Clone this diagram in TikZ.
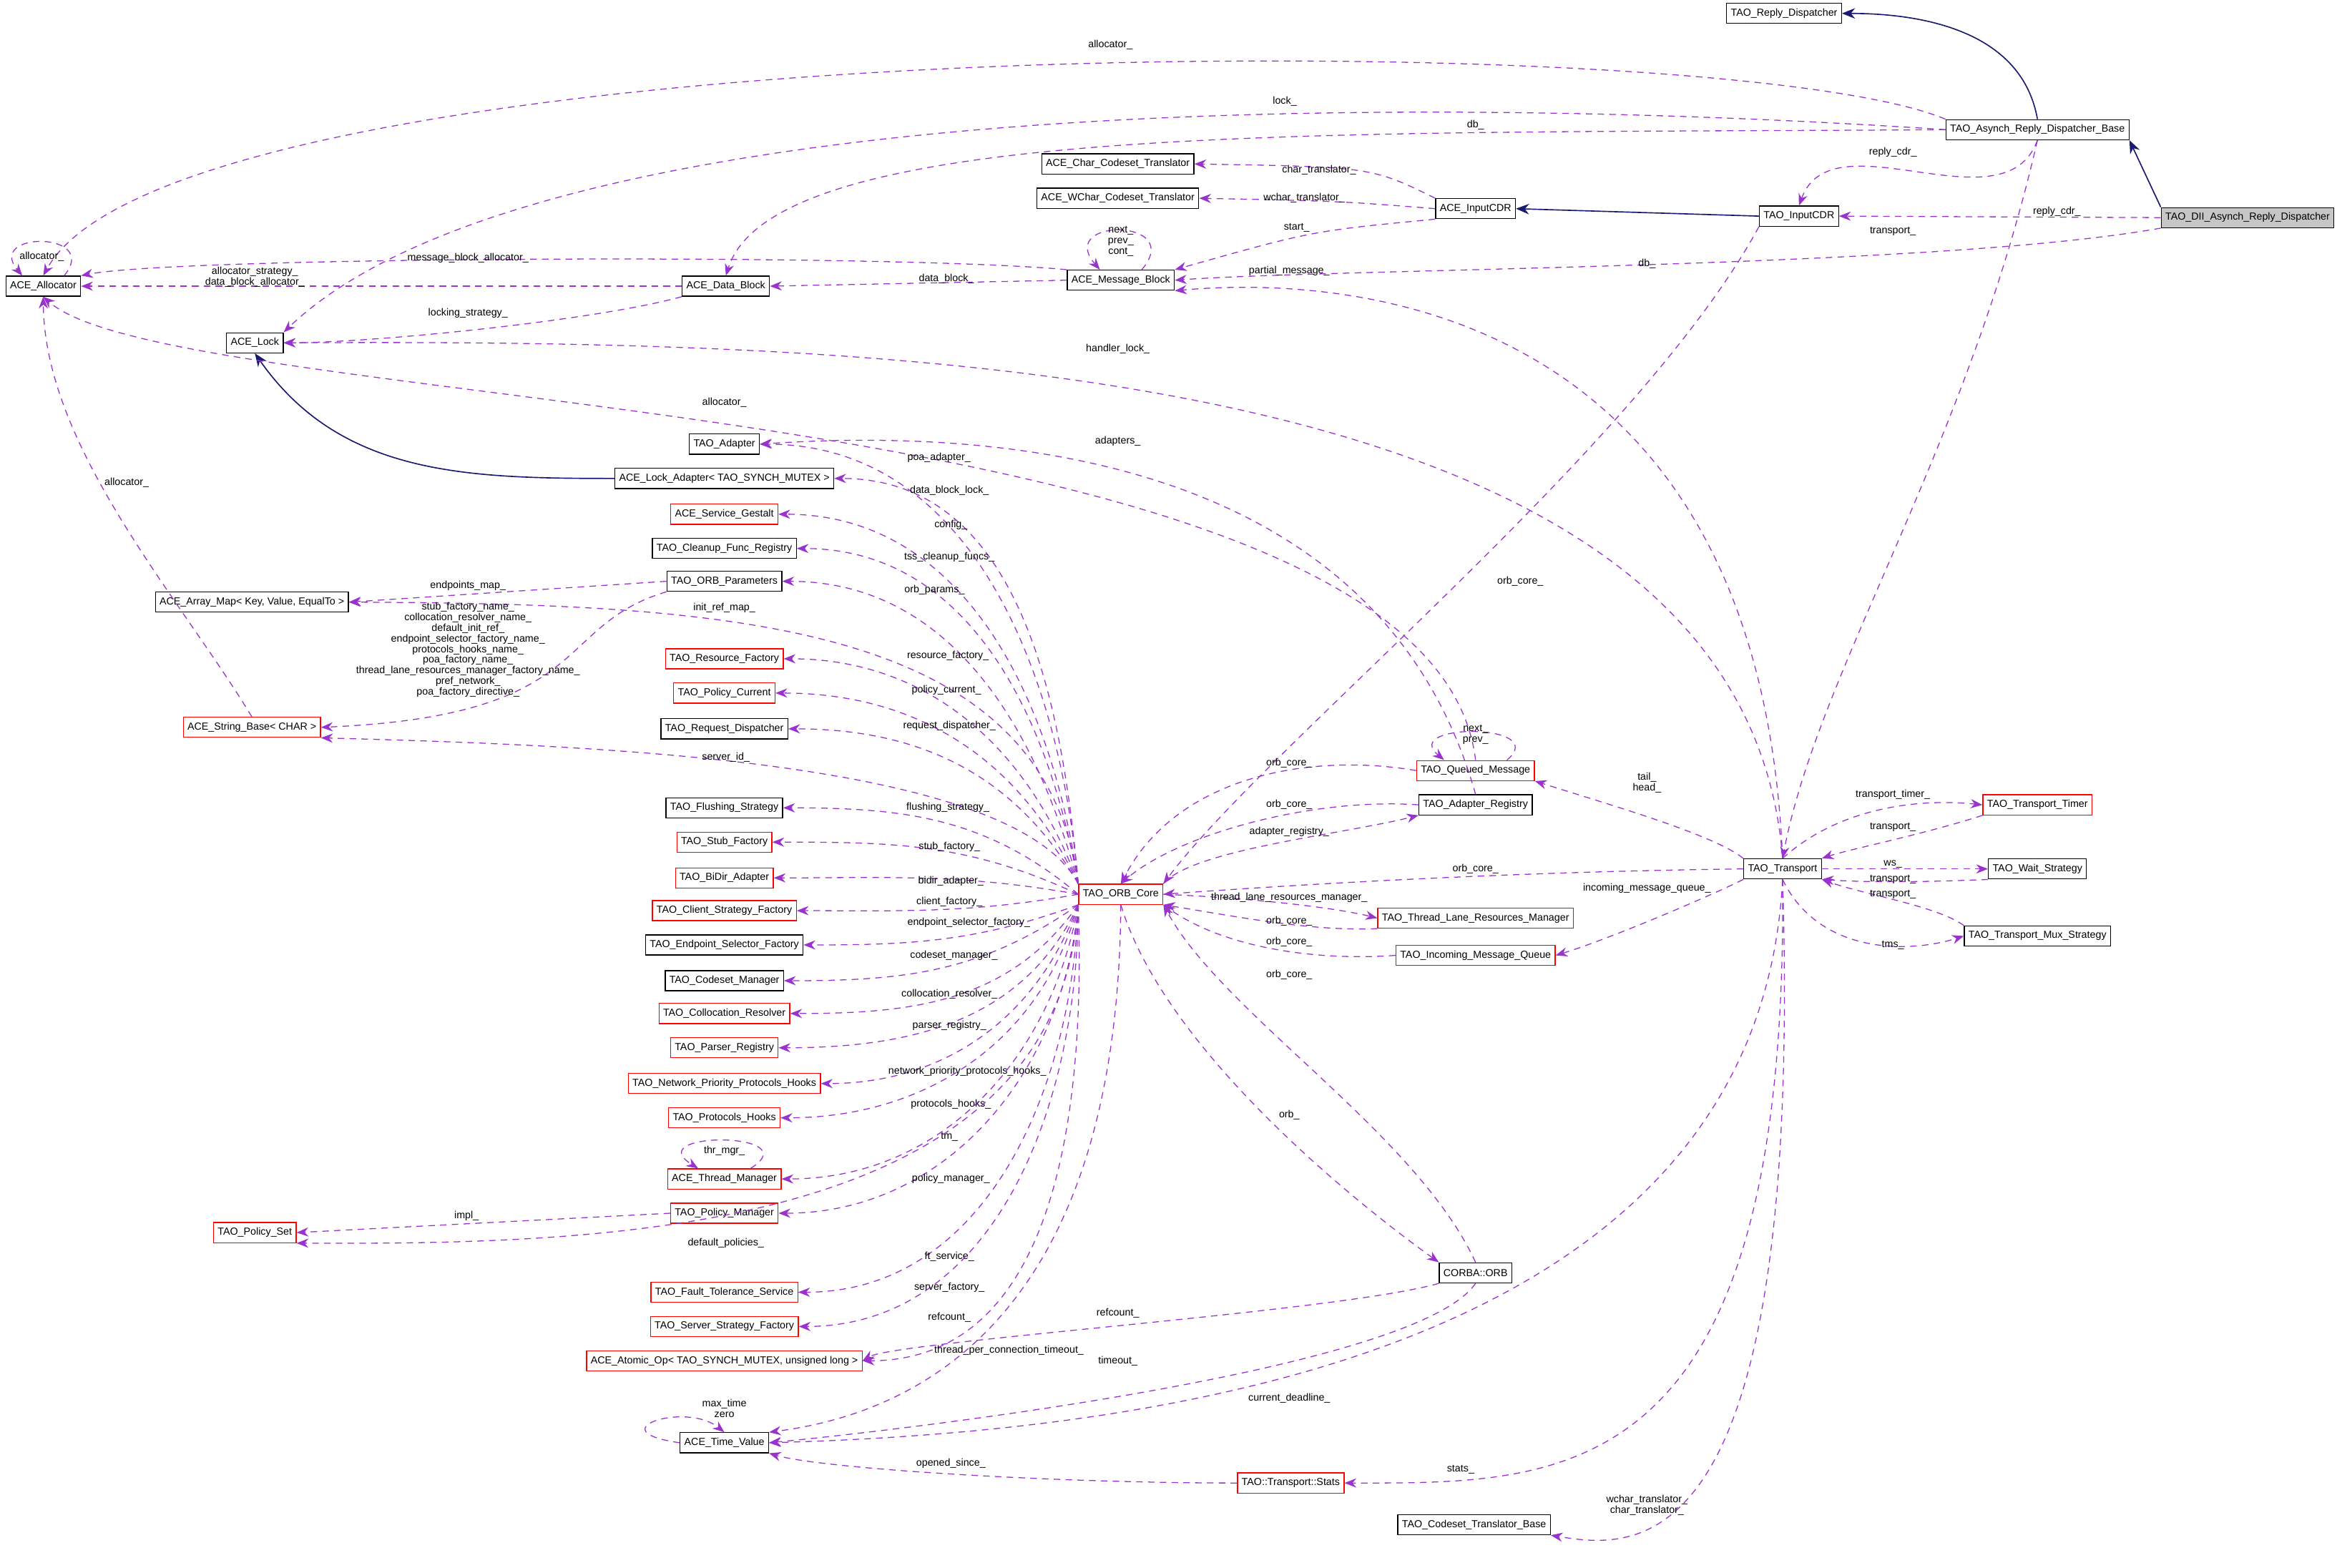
\documentclass[tikz,border=0pt]{standalone}
\usepackage{fontspec}
\setmainfont{Liberation Sans}
\usetikzlibrary{arrows.meta}
\definecolor{usec}{HTML}{9A32CD}
\definecolor{inhc}{HTML}{191970}
\begin{document}
\begin{tikzpicture}[x=0.02cm,y=-0.02cm,
  every node/.style={font=\fontsize{3.9}{4.05}\selectfont},
  cls/.style={draw=black,line width=0.35pt,inner sep=1.6pt,minimum height=0.27cm,fill=white},
  rcls/.style={cls,draw=red},
  lbl/.style={inner sep=0pt,align=center},
  use/.style={draw=usec,dashed,dash pattern=on 2.5pt off 2pt,line width=0.35pt,-{Stealth[length=4.5pt,width=3.5pt]}},
  inh/.style={draw=inhc,line width=0.45pt,-{Stealth[length=5pt,width=4pt]}}]
\useasboundingbox (0,0) rectangle (1568,1052);
% nodes
\node[cls] (rd) at (1197,9) {TAO\_Reply\_Dispatcher};
\node[cls] (asb) at (1367,87) {TAO\_Asynch\_Reply\_Dispatcher\_Base};
\node[cls,fill=gray!45] (dii) at (1508,146) {TAO\_DII\_Asynch\_Reply\_Dispatcher};
\node[cls] (tcdr) at (1207,145) {TAO\_InputCDR};
\node[cls] (acdr) at (990,140) {ACE\_InputCDR};
\node[cls] (chr) at (750,110) {ACE\_Char\_Codeset\_Translator};
\node[cls] (wchr) at (750,133) {ACE\_WChar\_Codeset\_Translator};
\node[cls] (mb) at (752,188) {ACE\_Message\_Block};
\node[cls] (db) at (487,192) {ACE\_Data\_Block};
\node[cls] (alloc) at (29,192) {ACE\_Allocator};
\node[cls] (lock) at (171,230) {ACE\_Lock};
\node[cls] (adapter) at (486,298) {TAO\_Adapter};
\node[cls] (ladapt) at (486,321) {ACE\_Lock\_Adapter< TAO\_SYNCH\_MUTEX >};
\node[rcls] (gest) at (486,345) {ACE\_Service\_Gestalt};
\node[cls] (clean) at (486,368) {TAO\_Cleanup\_Func\_Registry};
\node[cls] (params) at (486,390) {TAO\_ORB\_Parameters};
\node[cls] (amap) at (169,404) {ACE\_Array\_Map< Key, Value, EqualTo >};
\node[rcls] (resf) at (486,442) {TAO\_Resource\_Factory};
\node[rcls] (pcur) at (486,465) {TAO\_Policy\_Current};
\node[cls] (rdisp) at (486,489) {TAO\_Request\_Dispatcher};
\node[rcls] (sbase) at (169,488) {ACE\_String\_Base< CHAR >};
\node[cls] (flush) at (486,542) {TAO\_Flushing\_Strategy};
\node[rcls] (stub) at (486,565) {TAO\_Stub\_Factory};
\node[rcls] (bidir) at (486,589) {TAO\_BiDir\_Adapter};
\node[rcls] (client) at (486,611) {TAO\_Client\_Strategy\_Factory};
\node[cls] (endp) at (486,634) {TAO\_Endpoint\_Selector\_Factory};
\node[cls] (codeset) at (486,658) {TAO\_Codeset\_Manager};
\node[rcls] (coll) at (486,680) {TAO\_Collocation\_Resolver};
\node[rcls] (parser) at (486,703) {TAO\_Parser\_Registry};
\node[rcls] (netp) at (486,727) {TAO\_Network\_Priority\_Protocols\_Hooks};
\node[rcls] (proth) at (486,750) {TAO\_Protocols\_Hooks};
\node[rcls] (tmgr) at (486,791) {ACE\_Thread\_Manager};
\node[rcls] (pman) at (486,814) {TAO\_Policy\_Manager};
\node[rcls] (pset) at (171,827) {TAO\_Policy\_Set};
\node[rcls] (ft) at (486,867) {TAO\_Fault\_Tolerance\_Service};
\node[rcls] (ssf) at (486,890) {TAO\_Server\_Strategy\_Factory};
\node[rcls] (atomic) at (486,913) {ACE\_Atomic\_Op< TAO\_SYNCH\_MUTEX, unsigned long >};
\node[cls] (tv) at (486,968) {ACE\_Time\_Value};
\node[rcls] (stats) at (866,995) {TAO::Transport::Stats};
\node[cls] (ctb) at (989,1023) {TAO\_Codeset\_Translator\_Base};
\node[rcls] (core) at (752,600) {TAO\_ORB\_Core};
\node[rcls] (qm) at (990,517) {TAO\_Queued\_Message};
\node[cls] (areg) at (990,540) {TAO\_Adapter\_Registry};
\node[rcls] (tlrm) at (990,616) {TAO\_Thread\_Lane\_Resources\_Manager};
\node[rcls] (imq) at (990,641) {TAO\_Incoming\_Message\_Queue};
\node[cls] (orb) at (990,854) {CORBA::ORB};
\node[cls] (tr) at (1196,583) {TAO\_Transport};
\node[rcls] (timer) at (1367,540) {TAO\_Transport\_Timer};
\node[cls] (wait) at (1367,583) {TAO\_Wait\_Strategy};
\node[cls] (mux) at (1367,628) {TAO\_Transport\_Mux\_Strategy};
% inheritance
\draw[inh] (asb.north) to[out=100,in=0] (rd.east);
\draw[inh] (dii.north west) -- (asb.south east);
\draw[inh] (tcdr.west) -- (acdr.east);
\draw[inh] (ladapt.west) to[out=180,in=-55] (lock.south);
% top usage
\draw[use] (asb.north west) .. controls (1150,15) and (120,20) .. (alloc.north);
\node[lbl] (l1) at (745,30) {allocator\_};
\draw[use] (asb.west) .. controls (900,60) and (350,70) .. (lock.north east);
\node[lbl] (l2) at (862,68) {lock\_};
\draw[use] (asb.west) .. controls (900,90) and (520,80) .. (db.north);
\node[lbl] (l3) at (990,84) {db\_};
\draw[use] (asb.south) to[out=-110,in=70] (tcdr.north);
\node[lbl] (l4) at (1270,102) {reply\_cdr\_};
\draw[use] (asb.south) .. controls (1320,300) and (1220,450) .. (tr.north);
\node[lbl] (l5) at (1270,155) {transport\_};
\draw[use] (dii.west) -- (tcdr.east);
\node[lbl] (l6) at (1380,142) {reply\_cdr\_};
\draw[use] (dii.south west) .. controls (1300,180) and (900,180) .. (mb.east);
\node[lbl] (l7) at (1105,177) {db\_};
\draw[use] (acdr.north west) .. controls (920,112) .. (chr.east);
\node[lbl] (l8) at (885,114) {char\_translator\_};
\draw[use] (acdr.west) .. controls (900,135) .. (wchr.east);
\node[lbl] (l9) at (875,133) {wchar\_translator\_};
\draw[use] (acdr.south west) .. controls (880,155) .. (mb.north east);
\node[lbl] (l10) at (870,153) {start\_};
\draw[use] ([xshift=8]mb.north) .. controls +(30,-35) and +(-30,-35) .. ([xshift=-8]mb.north);
\node[lbl] (l11) at (752,162) {next\_\\prev\_\\cont\_};
\draw[use] (mb.west) -- (db.east);
\node[lbl] (l12) at (635,187) {data\_block\_};
\draw[use] (mb.north west) .. controls (600,170) and (120,172) .. (alloc.north east);
\node[lbl] (l13) at (314,173) {message\_block\_allocator\_};
\draw[use] (db.west) -- (alloc.east);
\node[lbl] (l14) at (171,186) {allocator\_strategy\_\\data\_block\_allocator\_};
\draw[use] (db.south west) .. controls (400,215) and (250,230) .. (lock.east);
\node[lbl] (l15) at (314,210) {locking\_strategy\_};
\draw[use] ([xshift=8]alloc.north) .. controls +(25,-30) and +(-25,-30) .. ([xshift=-8]alloc.north);
\node[lbl] (l16) at (28,172) {allocator\_};
\draw[use] (tr.north) .. controls (1180,200) and (900,185) .. (mb.south east);
\node[lbl] (l17) at (865,182) {partial\_message\_};
\draw[use] (tr.north) .. controls (1170,240) and (600,228) .. (lock.east);
\node[lbl] (l18) at (750,234) {handler\_lock\_};
\draw[use] (qm.north) .. controls (960,260) and (120,280) .. (alloc.south);
\node[lbl] (l19) at (486,270) {allocator\_};
\draw[use] (areg.north) .. controls (930,320) and (700,285) .. (adapter.east);
\node[lbl] (l20) at (750,296) {adapters\_};
\draw[use] (tcdr.south west) .. controls (1100,300) and (850,500) .. (core.north east);
\node[lbl] (l21) at (1020,390) {orb\_core\_};
% core fan out (above)
\draw[use] (core.north west) to[out=95,in=0] (adapter.east);
\node[lbl] (f1) at (630,307) {poa\_adapter\_};
\draw[use] (core.north west) to[out=95,in=0] (ladapt.east);
\node[lbl] (f2) at (637,329) {data\_block\_lock\_};
\draw[use] (core.north west) to[out=98,in=0] (gest.east);
\node[lbl] (f3) at (638,352) {config\_};
\draw[use] (core.north west) to[out=100,in=0] (clean.east);
\node[lbl] (f4) at (637,374) {tss\_cleanup\_funcs\_};
\draw[use] (core.north west) to[out=105,in=0] (params.east);
\node[lbl] (f5) at (627,396) {orb\_params\_};
\draw[use] (core.north west) .. controls (700,420) and (500,405) .. (amap.east);
\node[lbl] (f6) at (486,408) {init\_ref\_map\_};
\draw[use] (core.north west) to[out=110,in=0] (resf.east);
\node[lbl] (f7) at (636,440) {resource\_factory\_};
\draw[use] (core.north west) to[out=115,in=0] (pcur.east);
\node[lbl] (f8) at (635,463) {policy\_current\_};
\draw[use] (core.north west) to[out=120,in=0] (rdisp.east);
\node[lbl] (f9) at (637,487) {request\_dispatcher\_};
\draw[use] (core.north west) .. controls (680,510) and (400,500) .. (sbase.south east);
\node[lbl] (f10) at (487,508) {server\_id\_};
\draw[use] (core.west) to[out=140,in=0] (flush.east);
\node[lbl] (f11) at (636,542) {flushing\_strategy\_};
\draw[use] (core.west) to[out=155,in=0] (stub.east);
\node[lbl] (f12) at (637,568) {stub\_factory\_};
\draw[use] (core.west) to[out=170,in=0] (bidir.east);
\node[lbl] (f13) at (638,591) {bidir\_adapter\_};
\draw[use] (core.west) to[out=190,in=0] (client.east);
\node[lbl] (f14) at (637,605) {client\_factory\_};
\draw[use] (core.south west) to[out=200,in=0] (endp.east);
\node[lbl] (f15) at (650,619) {endpoint\_selector\_factory\_};
\draw[use] (core.south west) to[out=215,in=0] (codeset.east);
\node[lbl] (f16) at (640,641) {codeset\_manager\_};
\draw[use] (core.south west) to[out=235,in=0] (coll.east);
\node[lbl] (f17) at (637,667) {collocation\_resolver\_};
\draw[use] (core.south west) to[out=245,in=0] (parser.east);
\node[lbl] (f18) at (637,688) {parser\_registry\_};
\draw[use] (core.south west) to[out=250,in=0] (netp.east);
\node[lbl] (f19) at (649,719) {network\_priority\_protocols\_hooks\_};
\draw[use] (core.south west) to[out=255,in=0] (proth.east);
\node[lbl] (f20) at (638,741) {protocols\_hooks\_};
\draw[use] (core.south west) to[out=260,in=0] (tmgr.east);
\node[lbl] (f21) at (637,763) {tm\_};
\draw[use] ([xshift=10]tmgr.north) .. controls +(40,-25) and +(-40,-25) .. ([xshift=-10]tmgr.north);
\node[lbl] (f22) at (486,772) {thr\_mgr\_};
\draw[use] (core.south west) to[out=265,in=0] (pman.east);
\node[lbl] (f23) at (638,791) {policy\_manager\_};
\draw[use] (pman.west) -- (pset.east);
\node[lbl] (f24) at (313,816) {impl\_};
\draw[use] (core.south west) .. controls (710,830) and (400,835) .. (pset.south east);
\node[lbl] (f25) at (487,834) {default\_policies\_};
\draw[use] (core.south west) to[out=268,in=0] (ft.east);
\node[lbl] (f26) at (637,843) {ft\_service\_};
\draw[use] (core.south west) to[out=270,in=0] (ssf.east);
\node[lbl] (f27) at (637,864) {server\_factory\_};
\draw[use] (core.south west) to[out=272,in=0] (atomic.east);
\node[lbl] (f28) at (637,884) {refcount\_};
\draw[use] (core.south) .. controls (750,900) and (600,950) .. (tv.north east);
\node[lbl] (f29) at (677,906) {thread\_per\_connection\_timeout\_};
% params / string base
\draw[use] (params.west) -- (amap.east);
\node[lbl] (p1) at (314,393) {endpoints\_map\_};
\draw[use] (params.south west) .. controls (370,420) and (400,480) .. (sbase.east);
\node[lbl] (p2) at (314,436) {stub\_factory\_name\_\\collocation\_resolver\_name\_\\default\_init\_ref\_\\endpoint\_selector\_factory\_name\_\\protocols\_hooks\_name\_\\poa\_factory\_name\_\\thread\_lane\_resources\_manager\_factory\_name\_\\pref\_network\_\\poa\_factory\_directive\_};
\draw[use] (sbase.north) .. controls (120,400) and (30,300) .. (alloc.south);
\node[lbl] (p3) at (85,324) {allocator\_};
% right side around core
\draw[use] (qm.west) .. controls (880,505) and (790,520) .. (core.north);
\node[lbl] (r1) at (865,512) {orb\_core\_};
\draw[use] ([xshift=12]qm.north) .. controls +(30,-25) and +(-30,-25) .. ([xshift=-12]qm.north);
\node[lbl] (r2) at (990,493) {next\_\\prev\_};
\draw[use] (areg.west) .. controls (880,535) and (790,560) .. (core.north);
\node[lbl] (r3) at (865,540) {orb\_core\_};
\draw[use] (core.north east) .. controls (800,570) and (900,560) .. (areg.south west);
\node[lbl] (r4) at (865,558) {adapter\_registry\_};
\draw[use] (tr.west) .. controls (1000,585) and (850,595) .. (core.east);
\node[lbl] (r5) at (990,583) {orb\_core\_};
\draw[use] (core.east) .. controls (850,603) and (900,610) .. (tlrm.west);
\node[lbl] (r6) at (865,602) {thread\_lane\_resources\_manager\_};
\draw[use] (tlrm.south west) .. controls (880,625) and (830,615) .. (core.south east);
\node[lbl] (r7) at (865,618) {orb\_core\_};
\draw[use] (imq.west) .. controls (880,645) and (820,635) .. (core.south east);
\node[lbl] (r8) at (865,632) {orb\_core\_};
\draw[use] (orb.north) .. controls (950,760) and (820,680) .. (core.south east);
\node[lbl] (r9) at (865,654) {orb\_core\_};
\draw[use] (core.south) .. controls (780,700) and (900,800) .. (orb.north west);
\node[lbl] (r10) at (865,748) {orb\_};
\draw[use] (orb.south west) .. controls (900,880) and (600,900) .. (atomic.east);
\node[lbl] (r11) at (750,881) {refcount\_};
\draw[use] (orb.south) .. controls (950,920) and (600,960) .. (tv.east);
\node[lbl] (r12) at (750,913) {timeout\_};
\draw[use] (tr.south) .. controls (1180,900) and (800,960) .. (tv.east);
\node[lbl] (r13) at (865,938) {current\_deadline\_};
\draw[use] (tv.west) .. controls (400,960) and (460,940) .. (tv.north);
\node[lbl] (r14) at (486,945) {max\_time\\zero};
\draw[use] (stats.west) .. controls (700,995) and (550,985) .. (tv.south east);
\node[lbl] (r15) at (638,982) {opened\_since\_};
\draw[use] (tr.south) .. controls (1200,1000) and (1050,995) .. (stats.east);
\node[lbl] (r16) at (980,986) {stats\_};
\draw[use] (tr.south) .. controls (1210,1050) and (1100,1040) .. (ctb.south east);
\node[lbl] (r17) at (1105,1010) {wchar\_translator\_\\char\_translator\_};
\draw[use] (tr.north west) .. controls (1150,560) and (1080,540) .. (qm.south east);
\node[lbl] (r18) at (1105,525) {tail\_\\head\_};
\draw[use] (tr.south west) .. controls (1150,600) and (1080,630) .. (imq.east);
\node[lbl] (r19) at (1105,596) {incoming\_message\_queue\_};
% transport helpers
\draw[use] (tr.north) .. controls (1230,545) and (1280,535) .. (timer.west);
\node[lbl] (t1) at (1270,533) {transport\_timer\_};
\draw[use] (timer.south west) .. controls (1290,560) and (1240,570) .. (tr.north east);
\node[lbl] (t2) at (1270,555) {transport\_};
\draw[use] (tr.east) -- (wait.west);
\node[lbl] (t3) at (1270,580) {ws\_};
\draw[use] (wait.south west) .. controls (1290,592) and (1250,592) .. (tr.south east);
\node[lbl] (t4) at (1270,590) {transport\_};
\draw[use] (mux.north west) .. controls (1300,608) and (1250,600) .. (tr.south east);
\node[lbl] (t5) at (1270,600) {transport\_};
\draw[use] (tr.south) .. controls (1220,640) and (1280,640) .. (mux.west);
\node[lbl] (t6) at (1270,634) {tms\_};
\end{tikzpicture}
\end{document}
